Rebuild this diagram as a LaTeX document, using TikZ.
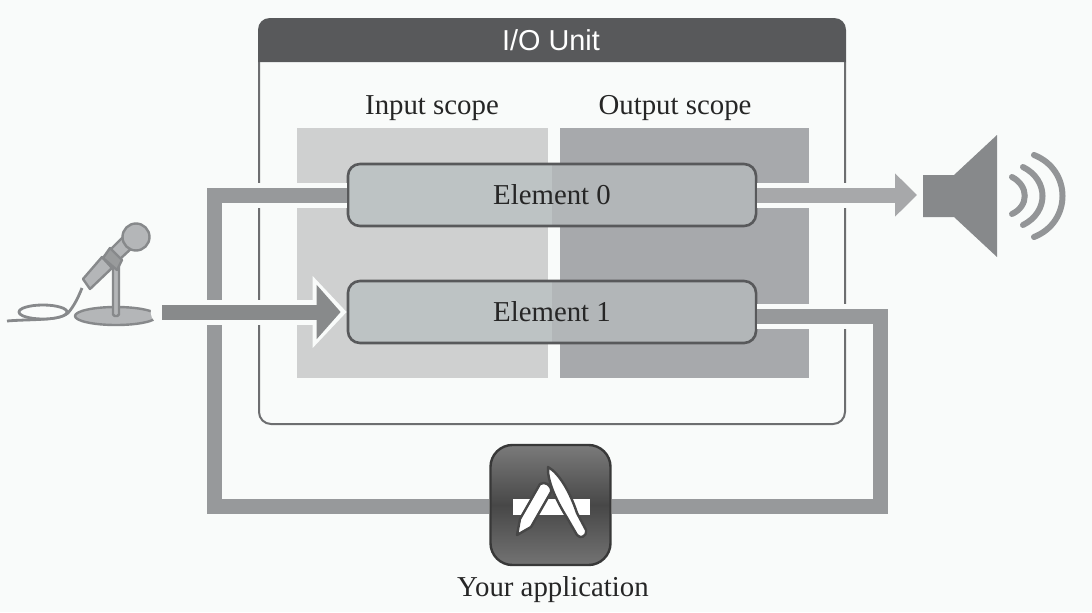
\documentclass[tikz,border=0pt]{standalone}
\usepackage{fontspec}
\setmainfont{Liberation Serif}
\setsansfont{Liberation Sans}
\usetikzlibrary{arrows.meta,shapes.geometric}
\definecolor{paper}{HTML}{F9FBFA}
\definecolor{dark}{HTML}{58595B}
\definecolor{framegray}{HTML}{6D6E70}
\definecolor{pipegray}{HTML}{97999B}
\definecolor{micgray}{HTML}{B4B6B8}
\definecolor{miclinegray}{HTML}{87898B}
\definecolor{inscope}{HTML}{CFD0D0}
\definecolor{outscope}{HTML}{A7A9AC}
\definecolor{elemleft}{HTML}{BDC3C4}
\definecolor{elemright}{HTML}{B2B6B8}
\tikzset{
  label text/.style={font=\fontsize{20.5}{24}\selectfont, text=black!85},
  scopebox/.style={minimum height=6.25cm, inner sep=0pt},
  element/.style={draw=dark, line width=0.065cm, rounded corners=0.3cm, minimum width=10.2cm, minimum height=1.55cm, fill=elemleft, label text,
    path picture={\fill[elemright, sharp corners] (path picture bounding box.north) rectangle (path picture bounding box.south east);}},
  halo/.style={draw=paper, line width=0.625cm},
  pipe/.style={draw=pipegray, line width=0.375cm},
  mic part/.style={fill=micgray, draw=miclinegray, line width=0.06cm, line join=round},
  wave/.style={draw=miclinegray!90, line width=0.15cm, line cap=round},
  glyph/.style={fill=white, draw=black!72, line width=0.06cm, line join=round},
}
\begin{document}
\begin{tikzpicture}[x=0.025cm, y=-0.025cm]
    \useasboundingbox[fill=paper] (0,0) rectangle (1092,612);

    % I/O unit frame
    \draw[framegray, line width=0.05cm, rounded corners=0.3cm] (259,62) -- (259,424) -- (845,424) -- (845,62);
    \fill[dark] (258,62) -- (258,30) .. controls (258,23) and (263,18) .. (270,18) -- (834,18) .. controls (841,18) and (846,23) .. (846,30) -- (846,62) -- cycle;
    \node[text=white, font=\fontsize{20.5}{24}\selectfont\sffamily] (unit) at (551,40) {I/O Unit};

    % Scopes
    \node[scopebox, fill=inscope, minimum width=6.275cm] (inbox) at (422.5,253) {};
    \node[scopebox, fill=outscope, minimum width=6.225cm] (outbox) at (684.5,253) {};
    \node[label text] (inlabel) at (432,108) {Input scope};
    \node[label text] (outlabel) at (675,108) {Output scope};

    % Elements
    \node[element] (elem0) at (552,195) {Element 0};
    \node[element] (elem1) at (552,312) {Element 1};

    % Your application
    \node[draw=black!78, line width=0.06cm, rounded corners=0.55cm, minimum size=3cm, top color=black!52, bottom color=black!55, middle color=black!72] (app) at (550.5,505) {};
    \node[label text] (applabel) at (553,590) {Your application};
    \coordinate (leftturn) at (214.5,506);
    \coordinate (rightturn) at (880,506);

    % Output element 0 to speaker
    \coordinate (speaker) at (923,195);
    \draw[halo] (elem0.east) -- (speaker);
    \draw[pipe, draw=pipegray!85, -{Triangle[length=0.55cm, width=1.05cm]}, shorten >=0.15cm] (elem0.east) -- (speaker);

    % Input scope of element 0 from application
    \draw[halo] (elem0.west) -| (leftturn) -- (app.west |- leftturn);
    \draw[pipe] (elem0.west) -| (leftturn) -- (app.west |- leftturn);

    % Output scope of element 1 to application
    \draw[halo] (elem1.east) ++(0,4) -| (rightturn) -- (app.east |- rightturn);
    \draw[pipe] (elem1.east) ++(0,4) -| (rightturn) -- (app.east |- rightturn);

    % Microphone
    \draw[miclinegray, line width=0.07cm] (82,288) .. controls (78,298) and (74,306) .. (68,313) .. controls (58,321) and (30,319) .. (7,321);
    \draw[miclinegray, line width=0.07cm, fill=paper] (43,312) ellipse [x radius=24, y radius=7];
    \node[ellipse, mic part, minimum width=2.05cm, minimum height=0.45cm, inner sep=0pt] (mic) at (116,316) {};
    \draw[mic part, rounded corners=0.04cm] (113,262) rectangle (119,316);
    \draw[mic part] (83,279) -- (102,257) -- (112,268) -- (90,289) -- cycle;
    \draw[mic part] (110,250) -- (124,236) -- (134,246) -- (120,259) -- cycle;
    \draw[mic part, fill=micgray!85!black] (110,248) -- (122,260) -- (117,270) -- (103,258) -- cycle;
    \draw[mic part] (136,237) circle [radius=13.5];

    % Microphone to element 1
    \draw[halo, line cap=round, shorten <=0.125cm, -{Triangle[length=0.85cm, width=1.75cm]}] (mic.east |- elem1.west) -- (elem1.west);
    \draw[pipe, draw=pipegray!90!black, shorten <=0.1cm, shorten >=0.15cm, -{Triangle[length=0.6cm, width=1.325cm]}] (mic.east |- elem1.west) -- (elem1.west);

    % Speaker
    \fill[miclinegray] (speaker |- 0,175) -- (954,175) -- (997,135) -- (997,257) -- (954,217) -- (speaker |- 0,217) -- cycle;
    \draw[wave] (1012,177) .. controls (1029,186) and (1029,206) .. (1012,214);
    \draw[wave] (1023,167) .. controls (1049,180) and (1049,212) .. (1023,225);
    \draw[wave] (1034,155) .. controls (1072,170) and (1072,222) .. (1034,237);

    % Application glyph
    \fill[white] (513,499) rectangle (590,515);
    \draw[glyph] (517,535) -- (520,519) -- (540,484) .. controls (545,481) and (552,485) .. (551,492) -- (531,527) -- cycle;
    \draw[glyph] (548,467) .. controls (559,473) and (570,492) .. (577,513) -- (586,530) .. controls (587,537) and (580,539) .. (577,535) -- (566,516) .. controls (556,500) and (547,480) .. cycle;
\end{tikzpicture}
\end{document}
